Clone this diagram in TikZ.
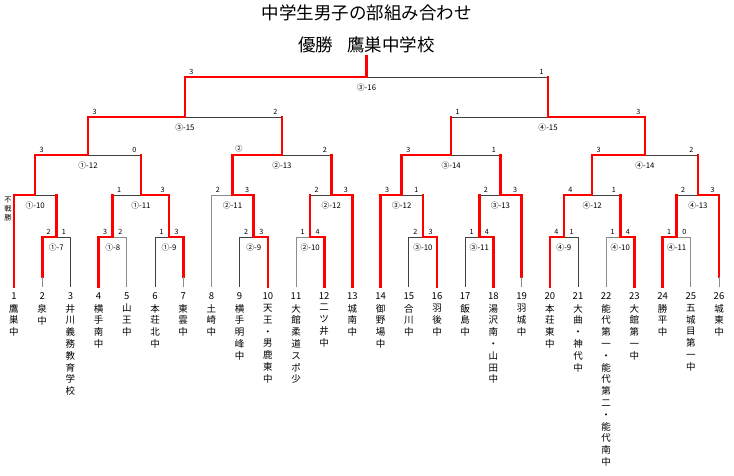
\documentclass[tikz,border=0pt]{standalone}
\usepackage{fontspec}
\setmainfont{Noto Sans CJK JP}
\usepackage{tikz}

\begin{document}
\begin{tikzpicture}[x=1pt,y=-1pt,
  win/.style={draw=red,line width=2.6pt,line cap=rect},
  lose/.style={draw=black!75,line width=0.9pt},
  loselt/.style={draw=black!45,line width=0.9pt},
  score/.style={font=\fontsize{7.2}{8}\selectfont,inner sep=0pt,anchor=south,yshift=2.2pt},
  game/.style={font=\fontsize{7.8}{8}\selectfont,inner sep=0pt,yshift=-11pt},
  num/.style={font=\fontsize{9.5}{10}\selectfont,inner sep=0pt},
  team/.style={font=\fontsize{9.5}{11.8}\selectfont,inner sep=0pt,anchor=north,text width=12pt,align=center},
  bye/.style={font=\fontsize{7.2}{9}\selectfont,inner sep=0pt,text width=8pt,align=center}]
\useasboundingbox (0,0) rectangle (734,475);
%
\node[font=\fontsize{17.5}{20}\selectfont] (title) at (366.5,13) {中学生男子の部組み合わせ};
\node[font=\fontsize{17.5}{20}\selectfont] (champ) at (366.5,45) {優勝\hspace{0.8em}鷹巣中学校};
%
\coordinate (t1) at (14,287);    \node[num] (no1) at (14,296) {1};
\coordinate (t2) at (42.2,287);  \node[num] (no2) at (42.2,296) {2};
\coordinate (t3) at (70.4,287);  \node[num] (no3) at (70.4,296) {3};
\coordinate (t4) at (98.6,287);  \node[num] (no4) at (98.6,296) {4};
\coordinate (t5) at (126.8,287); \node[num] (no5) at (126.8,296) {5};
\coordinate (t6) at (155,287);   \node[num] (no6) at (155,296) {6};
\coordinate (t7) at (183.2,287); \node[num] (no7) at (183.2,296) {7};
\coordinate (t8) at (211.4,287); \node[num] (no8) at (211.4,296) {8};
\coordinate (t9) at (239.6,287); \node[num] (no9) at (239.6,296) {9};
\coordinate (t10) at (267.8,287); \node[num] (no10) at (267.8,296) {10};
\coordinate (t11) at (296,287);   \node[num] (no11) at (296,296) {11};
\coordinate (t12) at (324.2,287); \node[num] (no12) at (324.2,296) {12};
\coordinate (t13) at (352.4,287); \node[num] (no13) at (352.4,296) {13};
\coordinate (t14) at (380.6,287); \node[num] (no14) at (380.6,296) {14};
\coordinate (t15) at (408.8,287); \node[num] (no15) at (408.8,296) {15};
\coordinate (t16) at (437,287);   \node[num] (no16) at (437,296) {16};
\coordinate (t17) at (465.2,287); \node[num] (no17) at (465.2,296) {17};
\coordinate (t18) at (493.4,287); \node[num] (no18) at (493.4,296) {18};
\coordinate (t19) at (521.6,287); \node[num] (no19) at (521.6,296) {19};
\coordinate (t20) at (549.8,287); \node[num] (no20) at (549.8,296) {20};
\coordinate (t21) at (578,287);   \node[num] (no21) at (578,296) {21};
\coordinate (t22) at (606.2,287); \node[num] (no22) at (606.2,296) {22};
\coordinate (t23) at (634.4,287); \node[num] (no23) at (634.4,296) {23};
\coordinate (t24) at (662.6,287); \node[num] (no24) at (662.6,296) {24};
\coordinate (t25) at (690.8,287); \node[num] (no25) at (690.8,296) {25};
\coordinate (t26) at (719,287);   \node[num] (no26) at (719,296) {26};
%
\node[team] (nm1) at (14,304) {鷹\\巣\\中};
\node[team] (nm2) at (42.2,304) {泉\\中};
\node[team] (nm3) at (70.4,304) {井\\川\\義\\務\\教\\育\\学\\校};
\node[team] (nm4) at (98.6,304) {横\\手\\南\\中};
\node[team] (nm5) at (126.8,304) {山\\王\\中};
\node[team] (nm6) at (155,304) {本\\荘\\北\\中};
\node[team] (nm7) at (183.2,304) {東\\雲\\中};
\node[team] (nm8) at (211.4,304) {土\\崎\\中};
\node[team] (nm9) at (239.6,304) {横\\手\\明\\峰\\中};
\node[team] (nm10) at (267.8,304) {天\\王\\・\\男\\鹿\\東\\中};
\node[team] (nm11) at (296,304) {大\\館\\柔\\道\\ス\\ポ\\少};
\node[team] (nm12) at (324.2,304) {二\\ツ\\井\\中};
\node[team] (nm13) at (352.4,304) {城\\南\\中};
\node[team] (nm14) at (380.6,304) {御\\野\\場\\中};
\node[team] (nm15) at (408.8,304) {合\\川\\中};
\node[team] (nm16) at (437,304) {羽\\後\\中};
\node[team] (nm17) at (465.2,304) {飯\\島\\中};
\node[team] (nm18) at (493.4,304) {湯\\沢\\南\\・\\山\\田\\中};
\node[team] (nm19) at (521.6,304) {羽\\城\\中};
\node[team] (nm20) at (549.8,304) {本\\荘\\東\\中};
\node[team] (nm21) at (578,304) {大\\曲\\・\\神\\代\\中};
\node[team] (nm22) at (606.2,304) {能\\代\\第\\一\\・\\能\\代\\第\\二\\・\\能\\代\\南\\中};
\node[team] (nm23) at (634.4,304) {大\\館\\第\\一\\中};
\node[team] (nm24) at (662.6,304) {勝\\平\\中};
\node[team] (nm25) at (690.8,304) {五\\城\\目\\第\\一\\中};
\node[team] (nm26) at (719,304) {城\\東\\中};
%
% round 1
\coordinate (A7) at (56.3,237);
\coordinate (A8) at (112.7,237);
\coordinate (A9) at (169.1,237);
\coordinate (B9) at (253.7,237);
\coordinate (B10) at (310.1,237);
\coordinate (C10) at (422.9,237);
\coordinate (C11) at (479.3,237);
\coordinate (D9) at (563.9,237);
\coordinate (D10) at (620.3,237);
\coordinate (D11) at (676.7,237);
% round 2
\coordinate (A10) at (35.15,195);
\coordinate (A11) at (140.9,195);
\coordinate (B11) at (232.55,195);
\coordinate (B12) at (331.25,195);
\coordinate (C12) at (401.75,195);
\coordinate (C13) at (500.45,195);
\coordinate (D12) at (592.1,195);
\coordinate (D13) at (697.85,195);
% round 3
\coordinate (A12) at (88.03,155);
\coordinate (B13) at (281.9,155);
\coordinate (C14) at (451.1,155);
\coordinate (D14) at (644.98,155);
% semi, final
\coordinate (C15) at (184.96,117);
\coordinate (D15) at (548.04,117);
\coordinate (C16) at (366.5,77);
%
% losers
\draw[lose] (t3) |- (A7);
\draw[loselt] (t5) |- (A8);
\draw[lose] (t6) |- (A9);
\draw[lose] (t9) |- (B9);
\draw[loselt] (t11) |- (B10);
\draw[lose] (t15) |- (C10);
\draw[lose] (t17) |- (C11);
\draw[lose] (t21) |- (D9);
\draw[loselt] (t22) |- (D10);
\draw[loselt] (t25) |- (D11);
\draw[loselt] (t8) |- (B11);
\draw[lose] (A7) |- (A10);
\draw[lose] (A8) |- (A11);
\draw[lose] (B10) |- (B12);
\draw[lose] (C10) |- (C12);
\draw[lose] (C11) |- (C13);
\draw[lose] (D10) |- (D12);
\draw[lose] (D11) |- (D13);
\draw[lose] (A11) |- (A12);
\draw[lose] (B12) |- (B13);
\draw[lose] (C13) |- (C14);
\draw[lose] (D13) |- (D14);
\draw[lose] (B13) |- (C15);
\draw[lose] (C14) |- (D15);
\draw[lose] (D15) |- (C16);
%
% winners
\coordinate (u2) at (42.2,277);
\coordinate (u7) at (183.2,277);
\coordinate (u19) at (521.6,277);
\coordinate (u26) at (719,277);
\draw[win] (t1) |- (A10) |- (A12) |- (C15) |- (C16) -- (champ.south);
\draw[win] (u2) |- (A7) -- (A7 |- A10);
\draw[win] (t4) |- (A8) -- (A8 |- A11);
\draw[win] (u7) |- (A9) |- (A11) -- (A11 |- A12);
\draw[win] (t10) |- (B9) |- (B11) |- (B13) -- (B13 |- C15);
\draw[win] (t12) |- (B10) -- (B10 |- B12);
\draw[win] (t13) |- (B12) -- (B12 |- B13);
\draw[win] (t14) |- (C12) |- (C14) -- (C14 |- D15);
\draw[win] (t16) |- (C10) -- (C10 |- C12);
\draw[win] (t18) |- (C11) -- (C11 |- C13);
\draw[win] (u19) |- (C13) -- (C13 |- C14);
\draw[win] (t20) |- (D9) |- (D12) |- (D14) |- (D15) -- (D15 |- C16);
\draw[win] (t23) |- (D10) -- (D10 |- D12);
\draw[win] (t24) |- (D11) -- (D11 |- D13);
\draw[win] (u26) |- (D13) -- (D13 |- D14);
\draw[loselt] (t2) -- (u2);
\draw[loselt] (t7) -- (u7);
\draw[loselt] (t19) -- (u19);
\draw[loselt] (t26) -- (u26);
%
% game numbers
\node[game] (gA7) at (A7) {①-7};
\node[game] (gA8) at (A8) {①-8};
\node[game] (gA9) at (A9) {①-9};
\node[game] (gB9) at (B9) {②-9};
\node[game] (gB10) at (B10) {②-10};
\node[game] (gC10) at (C10) {③-10};
\node[game] (gC11) at (C11) {③-11};
\node[game] (gD9) at (D9) {④-9};
\node[game] (gD10) at (D10) {④-10};
\node[game] (gD11) at (D11) {④-11};
\node[game] (gA10) at (A10) {①-10};
\node[game] (gA11) at (A11) {①-11};
\node[game] (gB11) at (B11) {②-11};
\node[game] (gB12) at (B12) {②-12};
\node[game] (gC12) at (C12) {③-12};
\node[game] (gC13) at (C13) {③-13};
\node[game] (gD12) at (D12) {④-12};
\node[game] (gD13) at (D13) {④-13};
\node[game] (gA12) at (A12) {①-12};
\node[game] (gB13) at (B13) {②-13};
\node[game] (gC14) at (C14) {③-14};
\node[game] (gD14) at (D14) {④-14};
\node[game] (gC15) at (C15) {③-15};
\node[game] (gD15) at (D15) {④-15};
\node[game] (gC16) at (C16) {③-16};
%
\node[bye] (bye) at (8,209) {不\\戦\\勝};
%
% scores
\node[score,xshift=6.5pt] (sA7l) at (t2 |- A7) {2};   \node[score,xshift=-6.5pt] (sA7r) at (t3 |- A7) {1};
\node[score,xshift=6.5pt] (sA8l) at (t4 |- A8) {3};   \node[score,xshift=-6.5pt] (sA8r) at (t5 |- A8) {2};
\node[score,xshift=6.5pt] (sA9l) at (t6 |- A9) {1};   \node[score,xshift=-6.5pt] (sA9r) at (t7 |- A9) {3};
\node[score,xshift=6.5pt] (sB9l) at (t9 |- B9) {2};   \node[score,xshift=-6.5pt] (sB9r) at (t10 |- B9) {3};
\node[score,xshift=6.5pt] (sB10l) at (t11 |- B10) {1}; \node[score,xshift=-6.5pt] (sB10r) at (t12 |- B10) {4};
\node[score,xshift=6.5pt] (sC10l) at (t15 |- C10) {2}; \node[score,xshift=-6.5pt] (sC10r) at (t16 |- C10) {3};
\node[score,xshift=6.5pt] (sC11l) at (t17 |- C11) {1}; \node[score,xshift=-6.5pt] (sC11r) at (t18 |- C11) {4};
\node[score,xshift=6.5pt] (sD9l) at (t20 |- D9) {4};   \node[score,xshift=-6.5pt] (sD9r) at (t21 |- D9) {1};
\node[score,xshift=6.5pt] (sD10l) at (t22 |- D10) {1}; \node[score,xshift=-6.5pt] (sD10r) at (t23 |- D10) {4};
\node[score,xshift=6.5pt] (sD11l) at (t24 |- D11) {1}; \node[score,xshift=-6.5pt] (sD11r) at (t25 |- D11) {0};
%
\node[score,xshift=6.5pt] (sA11l) at (A8 |- A11) {1};  \node[score,xshift=-6.5pt] (sA11r) at (A9 |- A11) {3};
\node[score,xshift=6.5pt] (sB11l) at (t8 |- B11) {2};  \node[score,xshift=-6.5pt] (sB11r) at (B9 |- B11) {3};
\node[score,xshift=6.5pt] (sB12l) at (B10 |- B12) {2}; \node[score,xshift=-6.5pt] (sB12r) at (t13 |- B12) {3};
\node[score,xshift=6.5pt] (sC12l) at (t14 |- C12) {3}; \node[score,xshift=-6.5pt] (sC12r) at (C10 |- C12) {1};
\node[score,xshift=6.5pt] (sC13l) at (C11 |- C13) {2}; \node[score,xshift=-6.5pt] (sC13r) at (t19 |- C13) {3};
\node[score,xshift=6.5pt] (sD12l) at (D9 |- D12) {4};  \node[score,xshift=-6.5pt] (sD12r) at (D10 |- D12) {1};
\node[score,xshift=6.5pt] (sD13l) at (D11 |- D13) {2}; \node[score,xshift=-6.5pt] (sD13r) at (t26 |- D13) {3};
%
\node[score,xshift=6.5pt] (sA12l) at (A10 |- A12) {3}; \node[score,xshift=-6.5pt] (sA12r) at (A11 |- A12) {0};
\node[score,xshift=6.5pt] (sB13l) at (B11 |- B13) {②}; \node[score,xshift=-6.5pt] (sB13r) at (B12 |- B13) {2};
\node[score,xshift=6.5pt] (sC14l) at (C12 |- C14) {3}; \node[score,xshift=-6.5pt] (sC14r) at (C13 |- C14) {1};
\node[score,xshift=6.5pt] (sD14l) at (D12 |- D14) {3}; \node[score,xshift=-6.5pt] (sD14r) at (D13 |- D14) {2};
%
\node[score,xshift=6.5pt] (sC15l) at (A12 |- C15) {3}; \node[score,xshift=-6.5pt] (sC15r) at (B13 |- C15) {2};
\node[score,xshift=6.5pt] (sD15l) at (C14 |- D15) {1}; \node[score,xshift=-6.5pt] (sD15r) at (D14 |- D15) {3};
\node[score,xshift=6.5pt] (sC16l) at (C15 |- C16) {3}; \node[score,xshift=-6.5pt] (sC16r) at (D15 |- C16) {1};
\end{tikzpicture}
\end{document}
